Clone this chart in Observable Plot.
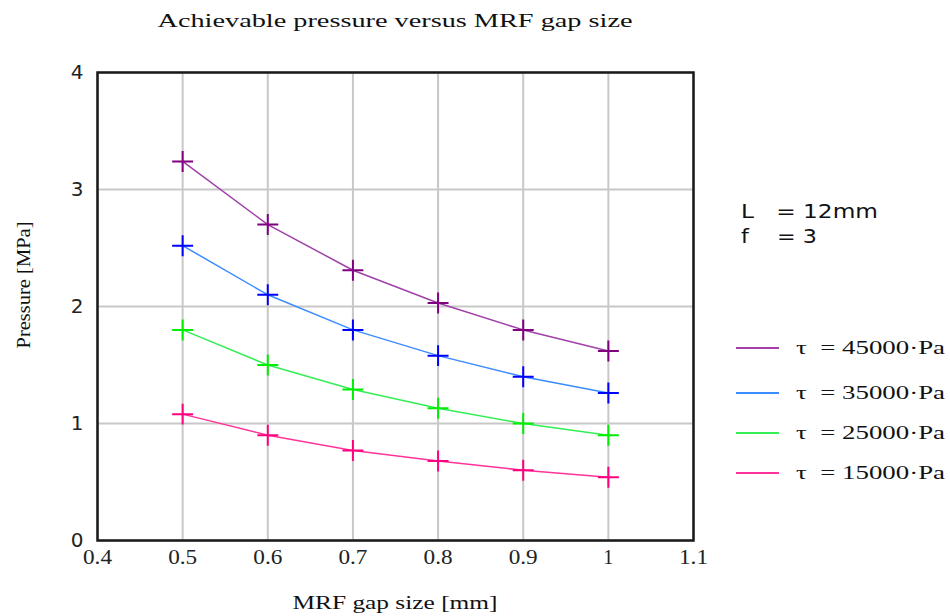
<!DOCTYPE html>
<html>
<head>
<meta charset="utf-8">
<script src="https://cdn.jsdelivr.net/npm/d3@7"></script>
<script src="https://cdn.jsdelivr.net/npm/@observablehq/plot@0.6"></script>
<style>
  html, body { margin: 0; padding: 0; background: #fff; }
  #chart { width: 950px; height: 616px; }
</style>
</head>
<body>
<div id="chart"></div>
<script>
const gapSize = [0.5, 0.6, 0.7, 0.8, 0.9, 1.0];
const p45000 = [3.24, 2.70, 2.31, 2.03, 1.80, 1.62];
const p35000 = [2.52, 2.10, 1.80, 1.58, 1.40, 1.26];
const p25000 = [1.80, 1.50, 1.29, 1.13, 1.00, 0.90];
const p15000 = [1.08, 0.90, 0.77, 0.68, 0.60, 0.54];
const seriesNames = ["τ  = 45000·Pa", "τ  = 35000·Pa", "τ  = 25000·Pa", "τ  = 15000·Pa"];
const lineColors = ["#a040a8", "#3a8cff", "#33ee55", "#ff3399"];
const markColors = ["#800080", "#0000ff", "#00ee00", "#ff0080"];
const xTicks = [0.4, 0.5, 0.6, 0.7, 0.8, 0.9, 1.0, 1.1];
const yTicks = [0, 1, 2, 3, 4];
const annotations = ["L   = 12mm", "f    = 3"];
const titleText = "Achievable pressure versus MRF gap size";
const xLabel = "MRF gap size [mm]";
const yLabel = "Pressure [MPa]";

const allSeries = [p45000, p35000, p25000, p15000];
const rows = [];
allSeries.forEach((vals, si) => {
  vals.forEach((v, i) => rows.push({x: gapSize[i], y: v, s: seriesNames[si]}));
});

const W = 950, H = 616;
const mL = 97, mR = 257, mT = 72, mB = 76;

const chart = Plot.plot({
  width: W,
  height: H,
  marginLeft: mL,
  marginRight: mR,
  marginTop: mT,
  marginBottom: mB,
  style: {background: "#fff", fontFamily: "'Liberation Serif', serif", color: "#111"},
  x: {domain: [0.4, 1.1], ticks: xTicks},
  y: {domain: [0, 4], ticks: yTicks},
  color: {domain: seriesNames, range: lineColors},
  marks: [
    Plot.gridX(xTicks, {stroke: "#c8c8c8", strokeOpacity: 1, strokeWidth: 2}),
    Plot.gridY(yTicks, {stroke: "#c8c8c8", strokeOpacity: 1, strokeWidth: 2}),
    Plot.frame({stroke: "#1a1a1a", strokeWidth: 2.5}),
    Plot.axisX(xTicks, {tickSize: 0, tickPadding: 9, label: null, tickFormat: d => String(+d.toFixed(1))}),
    Plot.axisY(yTicks, {tickSize: 0, tickPadding: 14, label: null, tickFormat: d => String(d)}),
    Plot.line(rows, {x: "x", y: "y", z: "s", stroke: "s", strokeWidth: 1.5}),
    Plot.dot(rows, {x: "x", y: "y", symbol: "plus", r: 6.8, strokeWidth: 2,
      stroke: d => markColors[seriesNames.indexOf(d.s)]})
  ]
});

document.getElementById("chart").appendChild(chart);

const svg = d3.select(chart);
svg.selectAll('g[aria-label="x-axis tick label"] text')
  .attr("font-family", "'Liberation Serif', serif")
  .attr("font-size", 20)
  .attr("fill", "#222")
  .each(function() {
    if (this.textContent.length > 1) {
      this.setAttribute("textLength", 29);
      this.setAttribute("lengthAdjust", "spacingAndGlyphs");
    }
  });
svg.selectAll('g[aria-label="y-axis tick label"] text')
  .attr("font-family", "'DejaVu Sans', sans-serif")
  .attr("font-size", 20)
  .attr("fill", "#222");

const plotCx = mL + (W - mL - mR) / 2;

function addText(opts) {
  const t = svg.append("text")
    .attr("text-anchor", opts.anchor || "start")
    .attr("font-family", opts.family || "'Liberation Serif', serif")
    .attr("font-size", opts.size || 19)
    .attr("fill", "#111")
    .style("white-space", "pre")
    .text(opts.text);
  if (opts.transform) t.attr("transform", opts.transform);
  else t.attr("x", opts.x).attr("y", opts.y);
  if (opts.len) t.attr("textLength", opts.len).attr("lengthAdjust", "spacingAndGlyphs");
  return t;
}

addText({x: plotCx, y: 27, anchor: "middle", size: 19, len: 475, text: titleText});
addText({x: plotCx, y: 609, anchor: "middle", size: 19, len: 205, text: xLabel});
addText({transform: "translate(30,285) rotate(-90)", anchor: "middle", size: 19, len: 127, text: yLabel});

const annLen = [137, 76];
annotations.forEach((t, i) => {
  addText({x: 741, y: 218 + i * 25, family: "'DejaVu Sans', sans-serif", size: 19, len: annLen[i], text: t});
});

const legendY = [348, 393, 433, 473];
seriesNames.forEach((name, i) => {
  svg.append("line")
    .attr("x1", 736).attr("x2", 779)
    .attr("y1", legendY[i]).attr("y2", legendY[i])
    .attr("stroke", lineColors[i]).attr("stroke-width", 2);
  addText({x: 796, y: legendY[i] + 6, size: 19, len: 149, text: name});
});
</script>
</body>
</html>
